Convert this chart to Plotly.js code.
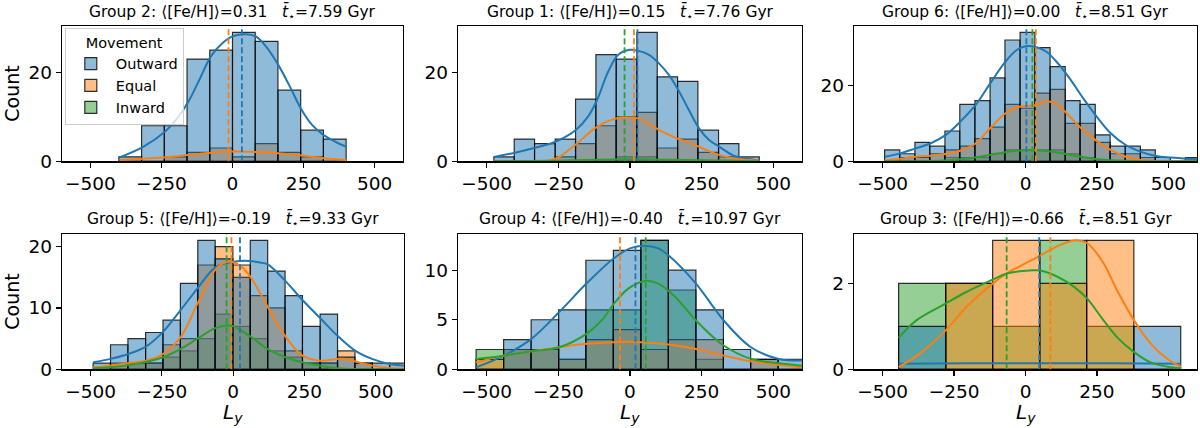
<!DOCTYPE html>
<html>
<head>
<meta charset="utf-8">
<script src="https://cdn.plot.ly/plotly-3.0.1.min.js"></script>
<style>
  body { margin: 0; background: white; }
  #myDiv { width: 1200px; height: 428px; }
</style>
</head>
<body>
<div id="myDiv"></div>
<script>
// values, one block per group (Outward / Equal / Inward)

// Group 2
var edgesG2 = [-400, -320, -240, -160, -80, 0, 80, 160, 240, 320, 400];
var outG2 = [1, 8, 8, 23, 25, 29, 27, 16, 7, 5];
var eqG2 = [0, 0, 1, 2, 3, 1, 4, 2, 1, 0];
var inG2 = [];
var kdeXOutG2 = [-397, -313, -237, -199, -158, -117, -76, -35, 0, 47, 82, 117, 161, 199, 243, 280, 321, 362, 400];
var kdeOutG2 = [0.9, 3.3, 6.7, 9.3, 13.1, 18.3, 23.6, 26.6, 28.1, 28.6, 28.1, 25.9, 21.7, 17.2, 11.6, 8.2, 5.9, 4.4, 3.3];
var kdeXEqG2 = [-397, -313, -237, -158, -76, 0, 82, 161, 243, 321, 400];
var kdeEqG2 = [0.3, 0.6, 0.9, 1.4, 1.95, 2.2, 2.1, 1.8, 1.3, 0.7, 0.3];
var kdeXInG2 = [];
var kdeInG2 = [];
var meanG2 = [33, -14, null];

// Group 1
var edgesG1 = [-475, -404, -333, -261, -190, -119, -48, 24, 95, 166, 237, 309, 380, 451];
var outG1 = [1, 5, 4, 5, 14, 24, 23, 29, 19, 18, 7, 4, 1];
var eqG1 = [0, 0, 0, 1, 4, 8, 10, 11, 3, 5, 2, 1, 0];
var inG1 = [0, 0, 0, 0, 0, 0, 1, 1, 0, 0, 0, 0, 0];
var kdeXOutG1 = [-471, -401, -328, -260, -188, -146, -115, -76, -41, 0, 27, 65, 100, 135, 168, 205, 241, 276, 311, 358, 384, 451];
var kdeOutG1 = [1.05, 1.95, 3.1, 4.4, 7.1, 10.1, 13.8, 20.2, 24.0, 25.1, 24.9, 24.0, 22.1, 19.5, 16.1, 11.6, 7.4, 4.8, 3.3, 1.4, 0.9, 0.15];
var kdeXEqG1 = [-475, -330, -290, -251, -220, -184, -150, -114, -70, -29, 6, 29, 65, 100, 135, 170, 205, 240, 275, 312, 382, 451];
var kdeEqG1 = [0, 0, 0.1, 0.8, 2.2, 4.06, 6.0, 7.8, 9.2, 9.85, 9.8, 9.6, 8.5, 7.1, 6.0, 5.0, 4.2, 3.3, 2.3, 1.4, 0.45, 0.15];
var kdeXInG1 = [-475, -350, -250, -150, -50, 0, 100, 200, 300, 400, 451];
var kdeInG1 = [0.02, 0.05, 0.15, 0.3, 0.38, 0.4, 0.37, 0.3, 0.2, 0.08, 0.04];
var meanG1 = [26, 14, -19];

// Group 6
var edgesG6 = [-493, -440, -387, -335, -282, -230, -177, -124, -72, -19, 33, 86, 139, 191, 244, 296, 349, 402, 454, 507, 559, 612];
var outG6 = [3, 2, 5, 4, 8, 15, 16, 22, 32, 34, 30, 25, 16, 15, 7, 4, 4, 3, 1, 0, 1];
var eqG6 = [0, 1, 1, 2, 3, 4, 6, 9, 15, 14, 18, 19, 10, 10, 5, 2, 2, 1, 0, 0, 0];
var inG6 = [0, 0, 0, 0, 1, 1, 1, 2, 3, 3, 3, 3, 2, 1, 0, 0, 0, 0, 0, 0, 0];
var kdeXOutG6 = [-493, -438, -385, -333, -280, -229, -175, -124, -71, -32, 3, 34, 73, 114, 155, 202, 245, 298, 351, 404, 456, 509, 561, 612];
var kdeOutG6 = [1.2, 2.1, 3.4, 4.7, 6.9, 10.4, 14.8, 20.5, 26.2, 29.3, 30.4, 30.2, 28.9, 25.8, 21.8, 16.6, 12.2, 7.4, 4.3, 2.5, 1.4, 1.0, 0.7, 0.5];
var kdeXEqG6 = [-493, -438, -385, -333, -280, -229, -175, -124, -71, -32, 3, 34, 68, 86, 114, 155, 202, 245, 298, 351, 404, 456, 612];
var kdeEqG6 = [0.2, 0.7, 1.2, 1.5, 1.9, 2.8, 4.7, 8.7, 12.6, 14.2, 14.6, 14.8, 15.7, 15.7, 14.8, 11.8, 8.2, 5.6, 3.0, 1.2, 0.35, 0.1, 0];
var kdeXInG6 = [-493, -280, -175, -124, -71, -32, 15, 62, 114, 178, 245, 318, 404, 612];
var kdeInG6 = [0, 0.2, 1.05, 1.7, 2.4, 2.8, 3.0, 2.8, 2.3, 1.4, 0.6, 0.2, 0, 0];
var meanG6 = [3, 36, 24];

// Group 5
var edgesG5 = [-491, -430, -369, -307, -246, -185, -124, -63, -1, 60, 121, 182, 243, 305, 366, 427, 488, 549, 611];
var outG5 = [1, 4, 5, 6, 8, 14, 21, 18, 15, 21, 16, 12, 7, 9, 2, 1, 1, 1];
var eqG5 = [0, 1, 1, 1, 4, 5, 17, 20, 17, 12, 10, 3, 1, 1, 3, 1, 0, 0];
var inG5 = [0, 0, 1, 1, 2, 3, 5, 9, 7, 5, 3, 2, 1, 1, 0, 0, 0, 0];
var kdeXOutG5 = [-491, -430, -368, -306, -246, -185, -125, -63, -23, 24, 60, 94, 121, 181, 243, 304, 365, 426, 487, 548, 602];
var kdeOutG5 = [1.15, 1.7, 2.5, 3.7, 6.1, 9.6, 13.2, 16.6, 17.3, 17.65, 17.65, 17.4, 17.1, 14.5, 11.3, 8.4, 5.5, 3.1, 1.7, 0.87, 0.6];
var kdeXEqG5 = [-491, -430, -368, -306, -246, -185, -125, -63, -23, -2, 29, 60, 121, 181, 243, 304, 365, 398, 426, 487, 548, 602];
var kdeEqG5 = [0.33, 0.6, 1.0, 1.4, 2.5, 5.2, 10.7, 16.2, 17.5, 17.5, 16.7, 15.1, 10.2, 5.5, 2.24, 1.4, 1.7, 1.7, 1.3, 0.6, 0.2, 0.1];
var kdeXInG5 = [-491, -368, -246, -185, -125, -63, -23, -2, 60, 121, 181, 243, 304, 365, 426, 602];
var kdeInG5 = [0.16, 0.66, 1.97, 3.3, 5.0, 6.7, 7.16, 7.05, 5.36, 3.3, 2.0, 1.15, 0.6, 0.16, 0.05, 0];
var meanG5 = [24, -6, -23];

// Group 4
var edgesG4 = [-537, -441, -345, -249, -154, -58, 38, 134, 230, 326, 421, 517, 613];
var outG4 = [0, 3, 5, 6, 11, 12, 13, 10, 6, 2, 1, 1];
var eqG4 = [1, 2, 2, 1, 3, 4, 2, 3, 3, 0, 1, 0];
var inG4 = [2, 2, 2, 1, 6, 6, 13, 8, 1, 0, 0, 0];
var kdeXOutG4 = [-537, -440, -344, -247, -152, -56, 0, 47, 99, 134, 230, 327, 422, 519, 601];
var kdeOutG4 = [0.2, 1.38, 3.07, 5.78, 8.65, 11.2, 12.2, 12.47, 12.2, 11.5, 8.65, 4.93, 2.23, 1.05, 0.88];
var kdeXEqG4 = [-537, -440, -344, -247, -152, -56, 0, 38, 134, 230, 327, 422, 519, 601];
var kdeEqG4 = [0.71, 1.38, 1.82, 2.23, 2.57, 2.74, 2.77, 2.74, 2.5, 2.06, 1.38, 0.81, 0.44, 0.2];
var kdeXInG4 = [-537, -440, -344, -247, -152, -99, -56, -6, 52, 99, 158, 230, 327, 422, 519, 601];
var kdeInG4 = [1.05, 1.38, 1.82, 2.23, 3.58, 4.93, 6.62, 8.14, 8.92, 8.65, 7.3, 4.93, 2.4, 1.05, 0.61, 0.37];
var meanG4 = [19, -35, 55];

// Group 3
var edgesG3 = [-444, -279, -115, 50, 214, 379, 543];
var outG3 = [1, 0, 0, 0, 0, 1];
var eqG3 = [0, 2, 3, 2, 3, 0];
var inG3 = [2, 2, 1, 3, 1, 0];
var kdeXOutG3 = [-444, -200, 50, 300, 543];
var kdeOutG3 = [0.13, 0.14, 0.14, 0.14, 0.13];
var kdeXEqG3 = [-444, -371, -280, -207, -114, -66, 50, 110, 170, 215, 273, 320, 380, 438, 497, 544];
var kdeEqG3 = [0.05, 0.36, 0.9, 1.45, 2.0, 2.23, 2.64, 2.86, 3.0, 2.94, 2.47, 1.84, 1.14, 0.6, 0.24, 0.06];
var kdeXInG3 = [-444, -382, -280, -207, -114, -66, 15, 50, 110, 170, 215, 273, 320, 380, 438, 497, 544];
var kdeInG3 = [0.73, 1.14, 1.53, 1.80, 2.09, 2.23, 2.30, 2.30, 2.16, 1.92, 1.65, 1.14, 0.75, 0.40, 0.16, 0.06, 0.02];
var meanG3 = [48, 87, -66];

var groupNames = ['Group 2', 'Group 1', 'Group 6', 'Group 5', 'Group 4', 'Group 3'];
var groupFeH = ['0.31', '0.15', '0.00', '-0.19', '-0.40', '-0.66'];
var groupAge = ['7.59', '7.76', '8.51', '9.33', '10.97', '8.51'];
var movement = ['Outward', 'Equal', 'Inward'];

var colors = ['#1f77b4', '#ff7f0e', '#2ca02c'];
var fills = ['rgba(31,119,180,0.5)', 'rgba(255,127,14,0.5)', 'rgba(44,160,44,0.5)'];
var fontFam = 'DejaVu Sans, Liberation Sans, sans-serif';

// subplot placement (paper fractions)
var panels = [
  { n: 1, hist: [outG2, eqG2, inG2], edges: edgesG2, kx: [kdeXOutG2, kdeXEqG2, kdeXInG2], ky: [kdeOutG2, kdeEqG2, kdeInG2], mean: meanG2, xd: [0.0517, 0.3358], yd: [0.6231, 0.9393], ymax: 30.45, dtick: 20 },
  { n: 2, hist: [outG1, eqG1, inG1], edges: edgesG1, kx: [kdeXOutG1, kdeXEqG1, kdeXInG1], ky: [kdeOutG1, kdeEqG1, kdeInG1], mean: meanG1, xd: [0.3817, 0.6683], yd: [0.6231, 0.9393], ymax: 30.45, dtick: 20 },
  { n: 3, hist: [outG6, eqG6, inG6], edges: edgesG6, kx: [kdeXOutG6, kdeXEqG6, kdeXInG6], ky: [kdeOutG6, kdeEqG6, kdeInG6], mean: meanG6, xd: [0.7117, 0.9975], yd: [0.6231, 0.9393], ymax: 35.7, dtick: 20, legend: true },
  { n: 4, hist: [outG5, eqG5, inG5], edges: edgesG5, kx: [kdeXOutG5, kdeXEqG5, kdeXInG5], ky: [kdeOutG5, kdeEqG5, kdeInG5], mean: meanG5, xd: [0.0517, 0.3369], yd: [0.1371, 0.4533], ymax: 22.05, dtick: 10 },
  { n: 5, hist: [outG4, eqG4, inG4], edges: edgesG4, kx: [kdeXOutG4, kdeXEqG4, kdeXInG4], ky: [kdeOutG4, kdeEqG4, kdeInG4], mean: meanG4, xd: [0.3817, 0.6683], yd: [0.1371, 0.4533], ymax: 13.65, dtick: 5 },
  { n: 6, hist: [outG3, eqG3, inG3], edges: edgesG3, kx: [kdeXOutG3, kdeXEqG3, kdeXInG3], ky: [kdeOutG3, kdeEqG3, kdeInG3], mean: meanG3, xd: [0.7117, 0.9975], yd: [0.1371, 0.4533], ymax: 3.15, dtick: 2 }
];

function axId(letter, n) {
  return n === 1 ? letter : letter + n;
}

function histTrace(edges, counts, k, n, showLeg) {
  var xs = [];
  var ws = [];
  for (var i = 0; i < counts.length; i++) {
    xs.push((edges[i] + edges[i + 1]) / 2);
    ws.push(edges[i + 1] - edges[i]);
  }
  return {
    type: 'bar',
    x: xs,
    y: counts,
    width: ws,
    xaxis: axId('x', n),
    yaxis: axId('y', n),
    name: movement[k],
    showlegend: showLeg,
    legendrank: k + 1,
    marker: { color: fills[k], line: { color: 'rgba(0,0,0,0.8)', width: 1.2 } },
    hoverinfo: 'skip'
  };
}

function kdeTrace(xs, ys, k, n) {
  return {
    type: 'scatter',
    mode: 'lines',
    x: xs,
    y: ys,
    xaxis: axId('x', n),
    yaxis: axId('y', n),
    showlegend: false,
    line: { color: colors[k], width: 2, shape: 'spline', smoothing: 1 },
    hoverinfo: 'skip'
  };
}

var data = [];
var shapes = [];
var annotations = [];
var layout = {
  width: 1200,
  height: 428,
  margin: { l: 0, r: 0, t: 0, b: 0 },
  paper_bgcolor: 'white',
  plot_bgcolor: 'white',
  barmode: 'overlay',
  bargap: 0,
  font: { family: fontFam, color: 'black' },
  showlegend: true,
  legend: {
    x: 0.054, y: 0.935, xanchor: 'left', yanchor: 'top',
    bgcolor: 'rgba(255,255,255,0.8)',
    bordercolor: '#cccccc', borderwidth: 1,
    font: { size: 14.5, family: fontFam },
    title: { text: 'Movement', side: 'top center', font: { size: 14.5, family: fontFam } },
    itemwidth: 40,
    traceorder: 'normal'
  }
};

panels.forEach(function (p, idx) {
  // draw order: Inward at the bottom, Outward on top
  for (var k = 2; k >= 0; k--) {
    if (p.hist[k].length) data.push(histTrace(p.edges, p.hist[k], k, p.n, !!p.legend));
  }
  for (var k2 = 0; k2 < 3; k2++) {
    if (p.kx[k2].length) data.push(kdeTrace(p.kx[k2], p.ky[k2], k2, p.n));
  }
  for (var k3 = 0; k3 < 3; k3++) {
    if (p.mean[k3] === null) continue;
    shapes.push({
      type: 'line', xref: axId('x', p.n), yref: axId('y', p.n) + ' domain',
      x0: p.mean[k3], x1: p.mean[k3], y0: 0, y1: 1,
      line: { color: colors[k3], width: 1.8, dash: '6px,3px' }
    });
  }

  var xName = p.n === 1 ? 'xaxis' : 'xaxis' + p.n;
  var yName = p.n === 1 ? 'yaxis' : 'yaxis' + p.n;
  layout[xName] = {
    domain: p.xd, anchor: axId('y', p.n),
    range: [-600, 600], tick0: 0, dtick: 250,
    ticks: 'outside', ticklen: 5, tickwidth: 1.2, tickcolor: 'black',
    showline: true, mirror: true, linecolor: 'black', linewidth: 1.2,
    showgrid: false, zeroline: false,
    tickfont: { size: 18.5, family: fontFam, color: 'black' }
  };
  layout[yName] = {
    domain: p.yd, anchor: axId('x', p.n),
    range: [0, p.ymax], tick0: 0, dtick: p.dtick,
    ticks: 'outside', ticklen: 5, tickwidth: 1.2, tickcolor: 'black',
    showline: true, mirror: true, linecolor: 'black', linewidth: 1.2,
    showgrid: false, zeroline: false,
    tickfont: { size: 18.5, family: fontFam, color: 'black' }
  };

  var xc = (p.xd[0] + p.xd[1]) / 2;
  var top = idx < 3;
  annotations.push({
    xref: 'paper', yref: 'paper', x: xc, y: top ? 0.9703 : 0.4883,
    xanchor: 'center', yanchor: 'middle', showarrow: false,
    text: groupNames[idx] + ': \u27e8[Fe/H]\u27e9=' + groupFeH[idx] +
      '\u00a0\u00a0\u00a0<i>t\u0304</i><sub>\u22c6</sub>=' + groupAge[idx] + ' Gyr',
    font: { size: 15.5, family: fontFam, color: 'black' }
  });
  if (!top) {
    annotations.push({
      xref: 'paper', yref: 'paper', x: xc, y: 1 - 413 / 428,
      xanchor: 'center', yanchor: 'middle', showarrow: false,
      text: '<i>L<sub>y</sub></i>',
      font: { size: 20, family: fontFam, color: 'black' }
    });
  }
  if (p.n === 1 || p.n === 4) {
    annotations.push({
      xref: 'paper', yref: 'paper', x: 12 / 1200, y: (p.yd[0] + p.yd[1]) / 2,
      xanchor: 'center', yanchor: 'middle', showarrow: false, textangle: -90,
      text: 'Count',
      font: { size: 19, family: fontFam, color: 'black' }
    });
  }
});

layout.shapes = shapes;
layout.annotations = annotations;

Plotly.newPlot('myDiv', data, layout, { staticPlot: true, displayModeBar: false });
</script>
</body>
</html>
